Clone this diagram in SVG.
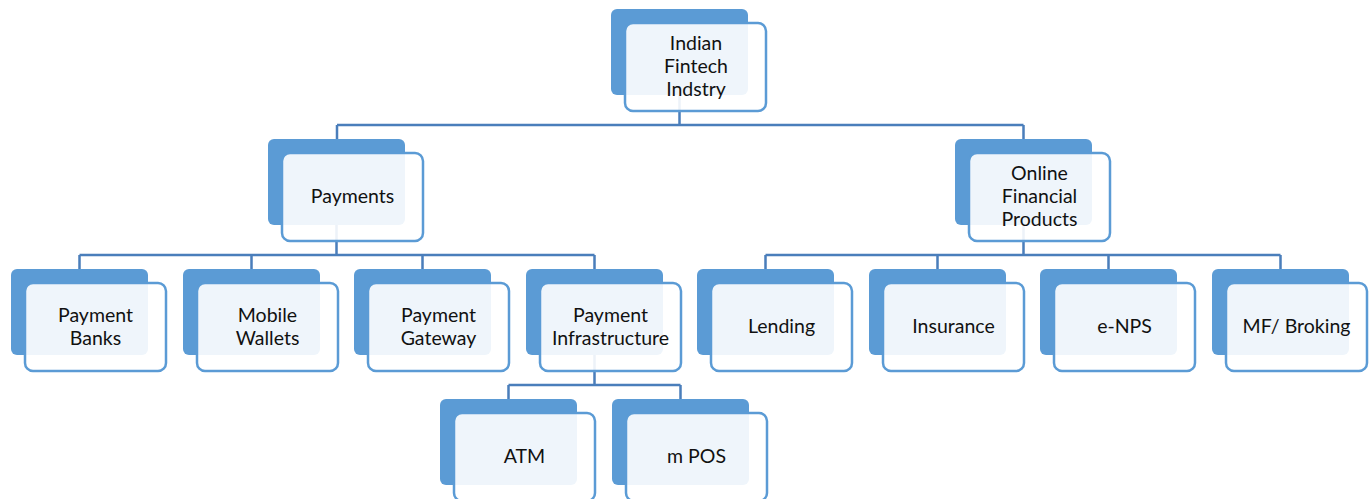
<svg xmlns="http://www.w3.org/2000/svg" width="1371" height="499" viewBox="0 0 1371 499">
<style>
.back{fill:#5B9BD5;}
.front{fill:#FFFFFF;fill-opacity:0.9;stroke:#5B9BD5;stroke-width:2.5;}
.lbl{font-family:Lato,"Liberation Sans",sans-serif;font-size:19.5px;fill:#111;text-anchor:middle;}
.conn{fill:none;stroke:#4A7EBB;stroke-width:2.5;}
</style>
<g id="connectors" class="conn">
<path d="M679.5 95V125M337 125H1023.5M337 125V139M1023.5 125V139"/>
<path d="M336.5 225V255M79.5 255H594.5M79.5 255V269M251.5 255V269M422.5 255V269M594.5 255V269"/>
<path d="M1023.5 225V255M765.5 255H1280.5M765.5 255V269M937.5 255V269M1108.5 255V269M1280.5 255V269"/>
<path d="M594.5 355V385M508.5 385H680.5M508.5 385V399M680.5 385V399"/>
</g>
<g id="root">
<rect class="back" x="611" y="9" width="137" height="86" rx="6"/>
<rect class="front" x="625" y="23" width="141" height="88" rx="8"/>
<text class="lbl" x="696" y="50">Indian</text>
<text class="lbl" x="696" y="73">Fintech</text>
<text class="lbl" x="696" y="96">Indstry</text>
</g>
<g id="payments">
<rect class="back" x="268" y="139" width="137" height="86" rx="6"/>
<rect class="front" x="282" y="153" width="141" height="88" rx="8"/>
<text class="lbl" x="352.5" y="203">Payments</text>
</g>
<g id="online">
<rect class="back" x="955" y="139" width="137" height="86" rx="6"/>
<rect class="front" x="969" y="153" width="141" height="88" rx="8"/>
<text class="lbl" x="1039.5" y="180">Online</text>
<text class="lbl" x="1039.5" y="203">Financial</text>
<text class="lbl" x="1039.5" y="226">Products</text>
</g>
<g id="payment-banks">
<rect class="back" x="11" y="269" width="137" height="86" rx="6"/>
<rect class="front" x="25" y="283" width="141" height="88" rx="8"/>
<text class="lbl" x="95.5" y="322">Payment</text>
<text class="lbl" x="95.5" y="345">Banks</text>
</g>
<g id="mobile-wallets">
<rect class="back" x="183" y="269" width="137" height="86" rx="6"/>
<rect class="front" x="197" y="283" width="141" height="88" rx="8"/>
<text class="lbl" x="267.5" y="322">Mobile</text>
<text class="lbl" x="267.5" y="345">Wallets</text>
</g>
<g id="payment-gateway">
<rect class="back" x="354" y="269" width="137" height="86" rx="6"/>
<rect class="front" x="368" y="283" width="141" height="88" rx="8"/>
<text class="lbl" x="438.5" y="322">Payment</text>
<text class="lbl" x="438.5" y="345">Gateway</text>
</g>
<g id="payment-infrastructure">
<rect class="back" x="526" y="269" width="137" height="86" rx="6"/>
<rect class="front" x="540" y="283" width="141" height="88" rx="8"/>
<text class="lbl" x="610.5" y="322">Payment</text>
<text class="lbl" x="610.5" y="345">Infrastructure</text>
</g>
<g id="lending">
<rect class="back" x="697" y="269" width="137" height="86" rx="6"/>
<rect class="front" x="711" y="283" width="141" height="88" rx="8"/>
<text class="lbl" x="781.5" y="333">Lending</text>
</g>
<g id="insurance">
<rect class="back" x="869" y="269" width="137" height="86" rx="6"/>
<rect class="front" x="883" y="283" width="141" height="88" rx="8"/>
<text class="lbl" x="953.5" y="333">Insurance</text>
</g>
<g id="e-nps">
<rect class="back" x="1040" y="269" width="137" height="86" rx="6"/>
<rect class="front" x="1054" y="283" width="141" height="88" rx="8"/>
<text class="lbl" x="1124.5" y="333">e-NPS</text>
</g>
<g id="mf-broking">
<rect class="back" x="1212" y="269" width="137" height="86" rx="6"/>
<rect class="front" x="1226" y="283" width="141" height="88" rx="8"/>
<text class="lbl" x="1296.5" y="333">MF/ Broking</text>
</g>
<g id="atm">
<rect class="back" x="440" y="399" width="137" height="86" rx="6"/>
<rect class="front" x="454" y="413" width="141" height="88" rx="8"/>
<text class="lbl" x="524.5" y="463">ATM</text>
</g>
<g id="mpos">
<rect class="back" x="612" y="399" width="137" height="86" rx="6"/>
<rect class="front" x="626" y="413" width="141" height="88" rx="8"/>
<text class="lbl" x="696.5" y="463">m POS</text>
</g>
</svg>
